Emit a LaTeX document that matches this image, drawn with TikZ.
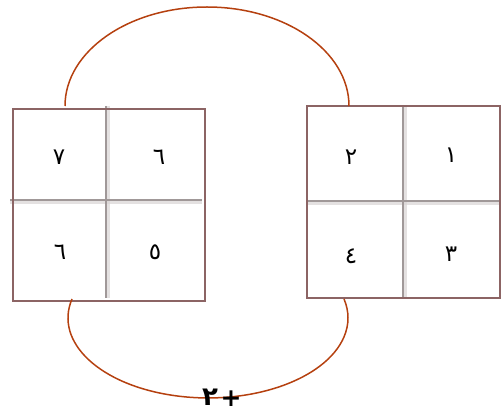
\documentclass[tikz,border=0pt]{standalone}
\usepackage{fontspec}
\newfontfamily\arabicfont[Script=Arabic]{DejaVu Sans}
\newfontfamily\plusfont{DejaVu Sans}
\TeXXeTstate=1
\definecolor{arccol}{HTML}{B5400F}
\definecolor{boxcol}{HTML}{8C6464}
\definecolor{gridcol}{HTML}{A09898}
\definecolor{shadcol}{HTML}{D8D4D4}
\tikzset{
  outerbox/.style={draw=boxcol, line width=1.8pt},
  gridline/.style={draw=gridcol, line width=2pt},
  gridshadow/.style={draw=shadcol, line width=3pt, opacity=0.7},
  digit/.style={font=\arabicfont\fontsize{23}{23}\selectfont, inner sep=0pt},
  arcline/.style={draw=arccol, line width=1.5pt},
}
\begin{document}
\begin{tikzpicture}[x=1pt,y=-1pt]
\useasboundingbox (0,0) rectangle (504,414);
% left grid
\draw[gridshadow] (10,202.5) -- (202,202.5);
\draw[gridshadow] (108.5,106) -- (108.5,298);
\draw[gridline] (10,200) -- (202,200);
\draw[gridline] (106,106) -- (106,298);
\node[outerbox, minimum width=192pt, minimum height=192pt, inner sep=0pt, anchor=north west] (L) at (12,108) {};
% right grid
\draw[gridshadow] (306,203.5) -- (499,203.5);
\draw[gridshadow] (405,105) -- (405,297);
\draw[gridline] (306,201) -- (499,201);
\draw[gridline] (402.5,105) -- (402.5,297);
\node[outerbox, minimum width=193pt, minimum height=192pt, inner sep=0pt, anchor=north west] (R) at (306,105) {};
% digits
\node[digit] (l1) at (59,157) {٧};
\node[digit] (l2) at (159,157) {٦};
\node[digit] (l3) at (60,252) {٦};
\node[digit] (l4) at (155,252) {٥};
\node[digit] (r1) at (351,157) {٢};
\node[digit] (r2) at (451,155) {١};
\node[digit] (r3) at (351,256) {٤};
\node[digit] (r4) at (451,254) {٣};
% arcs
\coordinate (ta) at (65,106);
\draw[arcline] (ta) arc[start angle=180, end angle=360, x radius=142, y radius=99];
\coordinate (ba) at (72,299);
\draw[arcline] (ba) arc[start angle=193.7, end angle=-13.7, x radius=140, y radius=80];
% label
\node[font=\arabicfont\bfseries\fontsize{26}{26}\selectfont, inner sep=0pt] (lab2) at (210,397) {٢};
\node[font=\plusfont\bfseries\fontsize{25}{25}\selectfont, inner sep=0pt] (labp) at (231,399) {+};
\end{tikzpicture}
\end{document}
